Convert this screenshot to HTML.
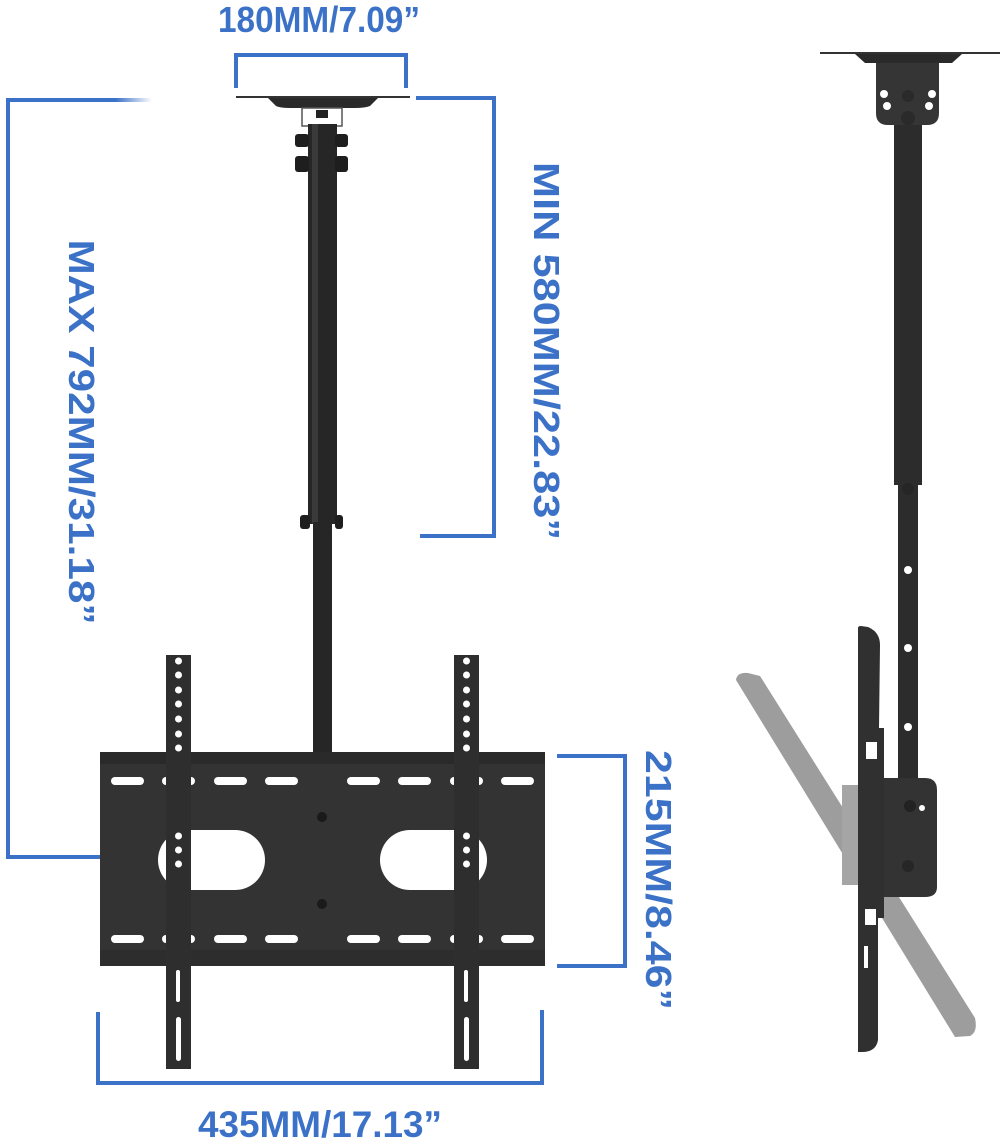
<!DOCTYPE html>
<html><head><meta charset="utf-8"><style>
html,body{margin:0;padding:0;background:#fff;}
svg{display:block;}
text{font-family:"Liberation Sans",sans-serif;font-weight:bold;fill:#3b72c8;}
</style></head><body>
<svg width="1000" height="1144" viewBox="0 0 1000 1144" xmlns="http://www.w3.org/2000/svg">
<defs>
<linearGradient id="fade" x1="0" x2="1"><stop offset="0.75" stop-color="#3b72c8"/><stop offset="1" stop-color="#3b72c8" stop-opacity="0"/></linearGradient>
</defs>
<g fill="none" stroke="#3b72c8" stroke-width="4">
<polyline points="236,88 236,55 406,55 406,88"/>
<polyline points="416,98 494,98 494,536 420,536"/>
<polyline points="8,100 8,857 150,857"/>
<polyline points="557,756 625,756 625,966 557,966"/>
<polyline points="98,1012 98,1083 542,1083 542,1010"/>
</g>
<rect x="6" y="98" width="146" height="4" fill="url(#fade)"/>
<text x="319" y="32" font-size="36" text-anchor="middle" textLength="202" lengthAdjust="spacingAndGlyphs">180MM/7.09”</text>
<text x="320" y="1137" font-size="37" text-anchor="middle" textLength="244" lengthAdjust="spacingAndGlyphs">435MM/17.13”</text>
<text transform="translate(69,432) rotate(90)" font-size="36" text-anchor="middle" textLength="385" lengthAdjust="spacingAndGlyphs">MAX 792MM/31.18”</text>
<text transform="translate(534,351) rotate(90)" font-size="36" text-anchor="middle" textLength="378" lengthAdjust="spacingAndGlyphs">MIN 580MM/22.83”</text>
<text transform="translate(646,880) rotate(90)" font-size="36" text-anchor="middle" textLength="260" lengthAdjust="spacingAndGlyphs">215MM/8.46”</text>

<rect x="236" y="96" width="174" height="2" fill="#333"/>
<path d="M268,98 L378,98 L370,106 Q365,108 355,108 L290,108 Q280,108 276,106 Z" fill="#2a2a2a"/>
<rect x="302" y="108" width="40" height="18" fill="none" stroke="#555" stroke-width="1.5"/>
<rect x="316" y="110" width="12" height="8" fill="#222"/>
<rect x="308" y="124" width="29" height="400" fill="#262626"/>
<rect x="312" y="124" width="6" height="400" fill="#3a3a3a"/>
<rect x="313" y="522" width="19" height="232" fill="#262626"/>
<g fill="#1e1e1e">
<rect x="295" y="134" width="14" height="13" rx="3"/><rect x="295" y="156" width="14" height="16" rx="3"/>
<rect x="335" y="134" width="13" height="13" rx="3"/><rect x="335" y="156" width="13" height="16" rx="3"/>
<rect x="300" y="515" width="10" height="14" rx="3"/><rect x="335" y="515" width="8" height="14" rx="3"/>
</g>
<rect x="100" y="752" width="445" height="214" fill="#333"/>
<rect x="100" y="752" width="445" height="12" fill="#2a2a2a"/>
<rect x="100" y="950" width="445" height="16" fill="#2d2d2d"/>
<g fill="#fff">
<rect x="158" y="830" width="107" height="60" rx="30"/>
<rect x="380" y="830" width="107" height="60" rx="30"/>
</g>
<g fill="#fff">
<rect x="111" y="777" width="33" height="8" rx="4"/><rect x="162" y="777" width="33" height="8" rx="4"/><rect x="214" y="777" width="33" height="8" rx="4"/><rect x="265" y="777" width="33" height="8" rx="4"/>
<rect x="347" y="777" width="33" height="8" rx="4"/><rect x="398" y="777" width="33" height="8" rx="4"/><rect x="450" y="777" width="33" height="8" rx="4"/><rect x="501" y="777" width="33" height="8" rx="4"/>
<rect x="111" y="935" width="33" height="8" rx="4"/><rect x="162" y="935" width="33" height="8" rx="4"/><rect x="214" y="935" width="33" height="8" rx="4"/><rect x="265" y="935" width="33" height="8" rx="4"/>
<rect x="347" y="935" width="33" height="8" rx="4"/><rect x="398" y="935" width="33" height="8" rx="4"/><rect x="450" y="935" width="33" height="8" rx="4"/><rect x="501" y="935" width="33" height="8" rx="4"/>
</g>
<circle cx="322" cy="817" r="5" fill="#1a1a1a"/><circle cx="322" cy="904" r="5" fill="#1a1a1a"/>
<g>
<rect x="166" y="655" width="25" height="414" fill="#2e2e2e"/>
<rect x="454" y="655" width="25" height="414" fill="#2e2e2e"/>
<g fill="#fff">
<circle cx="178.5" cy="661" r="3.5"/><circle cx="178.5" cy="675" r="3.5"/><circle cx="178.5" cy="690" r="3.5"/><circle cx="178.5" cy="704" r="3.5"/><circle cx="178.5" cy="719" r="3.5"/><circle cx="178.5" cy="734" r="3.5"/><circle cx="178.5" cy="748" r="3.5"/>
<circle cx="178.5" cy="836" r="3.5"/><circle cx="178.5" cy="850" r="3.5"/><circle cx="178.5" cy="864" r="3.5"/>
<circle cx="466.5" cy="661" r="3.5"/><circle cx="466.5" cy="675" r="3.5"/><circle cx="466.5" cy="690" r="3.5"/><circle cx="466.5" cy="704" r="3.5"/><circle cx="466.5" cy="719" r="3.5"/><circle cx="466.5" cy="734" r="3.5"/><circle cx="466.5" cy="748" r="3.5"/>
<circle cx="466.5" cy="836" r="3.5"/><circle cx="466.5" cy="850" r="3.5"/><circle cx="466.5" cy="864" r="3.5"/>
<rect x="176" y="1017" width="5" height="44" rx="2.5"/><rect x="464" y="1017" width="5" height="44" rx="2.5"/>
<rect x="176" y="970" width="4" height="32" rx="2"/><rect x="464" y="970" width="4" height="32" rx="2"/>
</g>
</g>

<path d="M736,680 Q737,672 748,673 L760,676 L975,1018 Q978,1032 970,1036 L955,1037 Z" fill="#9d9d9d"/>
<rect x="842" y="785" width="22" height="100" fill="#a5a5a5"/>
<rect x="820" y="52" width="180" height="2" fill="#333"/>
<path d="M855,54 L962,54 L952,63 L865,63 Z" fill="#2a2a2a"/>
<path d="M876,63 L939,63 L939,113 Q939,125 927,125 L888,125 Q876,125 876,113 Z" fill="#353535"/>
<g fill="#fff"><circle cx="884" cy="94" r="4"/><circle cx="887" cy="106" r="4"/><circle cx="932" cy="94" r="4"/><circle cx="929" cy="106" r="4"/></g>
<circle cx="908" cy="96" r="6" fill="#2a2a2a"/><circle cx="908" cy="118" r="7" fill="#2a2a2a"/>
<rect x="894" y="125" width="28" height="360" fill="#2c2c2c"/>
<rect x="898" y="485" width="20" height="296" fill="#2c2c2c"/>
<circle cx="908" cy="489" r="6" fill="#262626"/>
<g fill="#fff"><circle cx="908" cy="570" r="4"/><circle cx="908" cy="648" r="4"/><circle cx="908" cy="727" r="4"/></g>
<path d="M882,778 L925,778 Q937,778 937,790 L937,887 Q937,897 925,897 L882,897 Z" fill="#333"/>
<circle cx="910" cy="806" r="6" fill="#222"/><circle cx="922" cy="808" r="3" fill="#fff"/><circle cx="908" cy="866" r="6" fill="#262626"/>
<path d="M858,628 Q858,626 861,626 L868,627 Q880,632 880,645 L879,728 L858,728 Z" fill="#303030"/>
<rect x="858" y="728" width="26" height="190" fill="#303030"/>
<path d="M858,918 L878,918 L878,1040 Q876,1052 862,1052 L858,1052 Z" fill="#303030"/>
<g fill="#fff"><rect x="866" y="742" width="11" height="17"/><rect x="865" y="909" width="11" height="16"/><rect x="864" y="946" width="4" height="22"/></g>
</svg>
</body></html>
